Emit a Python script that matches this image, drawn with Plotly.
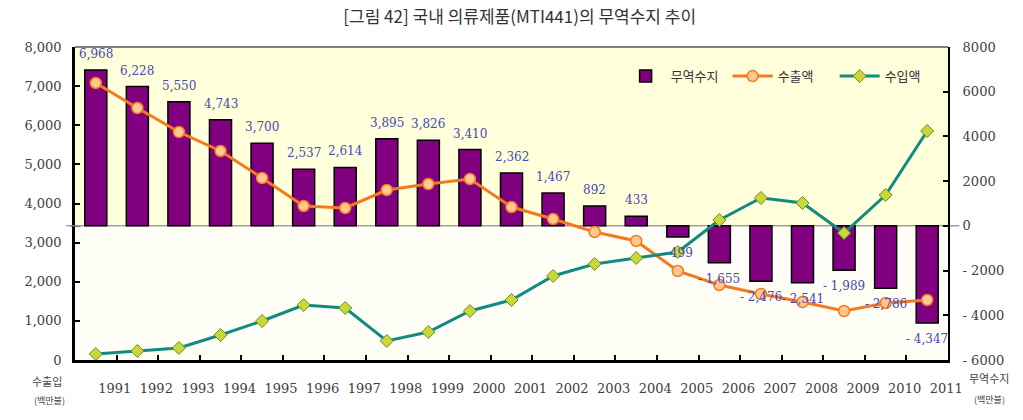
import plotly.graph_objects as go

years = list(range(1991, 2012))
year_labels = [str(y) for y in years]
balance = [6968, 6228, 5550, 4743, 3700, 2537, 2614, 3895, 3826, 3410, 2362,
           1467, 892, 433, -499, -1655, -2476, -2541, -1989, -2786, -4347]
exports = [7080, 6441, 5827, 5342, 4652, 3936, 3885, 4345, 4498, 4626, 3910,
           3604, 3272, 3042, 2275, 1917, 1687, 1482, 1252, 1457, 1534]
imports = [153, 230, 307, 639, 997, 1406, 1329, 486, 716, 1252, 1534,
           2147, 2454, 2607, 2760, 3578, 4141, 4013, 3246, 4217, 5853]

left_ticks = [0, 1000, 2000, 3000, 4000, 5000, 6000, 7000, 8000]
left_ticktext = ["0", "1,000", "2,000", "3,000", "4,000", "5,000", "6,000", "7,000", "8,000"]
right_ticks = [-6000, -4000, -2000, 0, 2000, 4000, 6000, 8000]
right_ticktext = ["- 6000", "- 4000", "- 2000", "0", "2000", "4000", "6000", "8000"]

title_text = "[그림 42] 국내 의류제품(MTI441)의 무역수지 추이"
names = ["무역수지", "수출액", "수입액"]

NUM_FONT = "DejaVu Serif"
KR_FONT = "Noto Sans CJK KR"
LABEL_COLOR = "#4848B0"

def fmt(v):
    s = f"{abs(v):,}"
    return s if v >= 0 else "- " + s

fig = go.Figure()
fig.add_trace(go.Bar(
    x=years, y=balance, yaxis="y", name=names[0], width=0.53,
    marker=dict(color="#800080", line=dict(color="black", width=1.5)),
))
fig.add_trace(go.Scatter(
    x=years, y=exports, yaxis="y2", name=names[1], mode="lines+markers",
    line=dict(color="#F47A20", width=3),
    marker=dict(symbol="circle", size=11, color="#FFC890",
                line=dict(color="#F47A20", width=1.5)),
))
fig.add_trace(go.Scatter(
    x=years, y=imports, yaxis="y2", name=names[2], mode="lines+markers",
    line=dict(color="#138A80", width=3),
    marker=dict(symbol="diamond", size=10, color="#C8D83A",
                line=dict(color="#6E8B1E", width=1)),
))

annotations = []
for yr, v in zip(years, balance):
    annotations.append(dict(
        x=yr, y=v, xref="x", yref="y", text=fmt(v), showarrow=False,
        yshift=16 if v > 0 else -16,
        font=dict(family=NUM_FONT, size=12, color=LABEL_COLOR),
    ))

annotations += [
    dict(x=-0.032, y=-0.067, xref="paper", yref="paper", text="수출입", showarrow=False,
         xanchor="center", yanchor="middle",
         font=dict(family=KR_FONT, size=11, color="#444")),
    dict(x=-0.029, y=-0.128, xref="paper", yref="paper", text="(백만불)", showarrow=False,
         xanchor="center", yanchor="middle",
         font=dict(family=KR_FONT, size=9, color="#444")),
    dict(x=1.047, y=-0.057, xref="paper", yref="paper", text="무역수지", showarrow=False,
         xanchor="center", yanchor="middle",
         font=dict(family=KR_FONT, size=11, color="#444")),
    dict(x=1.047, y=-0.125, xref="paper", yref="paper", text="(백만불)", showarrow=False,
         xanchor="center", yanchor="middle",
         font=dict(family=KR_FONT, size=9, color="#444")),
    # axis break mark on the left axis
    dict(x=0, y=0, xref="paper", yref="y", text="~", showarrow=False,
         xanchor="center", yanchor="middle",
         font=dict(family=NUM_FONT, size=16, color="#808080")),
]

shapes = [
    dict(type="rect", xref="paper", yref="y", x0=0, x1=1, y0=0, y1=8000,
         fillcolor="#FFFFDC", line=dict(width=0), layer="below"),
    dict(type="line", xref="paper", yref="y", x0=-0.01, x1=1.013, y0=0, y1=0,
         line=dict(color="#A0A0A0", width=1.5), layer="below"),
    dict(type="line", xref="paper", yref="paper", x0=0, x1=1, y0=1, y1=1,
         line=dict(color="#808080", width=2)),
]

tickfont = dict(family=NUM_FONT, size=13, color="#404040")

fig.update_layout(
    width=1023, height=420,
    margin=dict(l=75, r=75, t=47, b=60, autoexpand=False),
    paper_bgcolor="white", plot_bgcolor="#FFFEF6",
    title=dict(text=title_text, x=0.508, xanchor="center", y=0.96, yanchor="middle",
               font=dict(family=KR_FONT, size=17, color="#333")),
    showlegend=True,
    legend=dict(orientation="h", x=0.625, xanchor="left", y=0.907, yanchor="middle",
                entrywidth=52, itemwidth=40,
                bgcolor="rgba(0,0,0,0)", font=dict(family=KR_FONT, size=13, color="#333")),
    xaxis=dict(range=[1990.5, 2011.5], tickvals=years, ticktext=year_labels, ticks="",
               ticklabelshift=19, ticklabelstandoff=14,
               showline=True, linecolor="black", linewidth=3, showgrid=False, zeroline=False,
               tickfont=tickfont,
               minor=dict(tickvals=[y + 0.5 for y in years[:-1]], ticks="inside", ticklen=5,
                          tickcolor="black", tickwidth=1.5, showgrid=False)),
    yaxis=dict(side="right", range=[-6000, 8000], tickvals=right_ticks, ticktext=right_ticktext,
               ticks="inside", ticklen=5, tickwidth=1.5, tickcolor="black",
               showline=True, linecolor="black", linewidth=2, showgrid=False, zeroline=False,
               ticklabelstandoff=10, tickfont=tickfont),
    yaxis2=dict(side="left", overlaying="y", range=[0, 8000], tickvals=left_ticks,
                ticktext=left_ticktext, ticks="inside", ticklen=5, tickwidth=1.5, tickcolor="black",
                showline=True, linecolor="black", linewidth=2.5, showgrid=False, zeroline=False,
                ticklabelstandoff=8, tickfont=tickfont),
    annotations=annotations,
    shapes=shapes,
)

fig.write_html("out.html")
